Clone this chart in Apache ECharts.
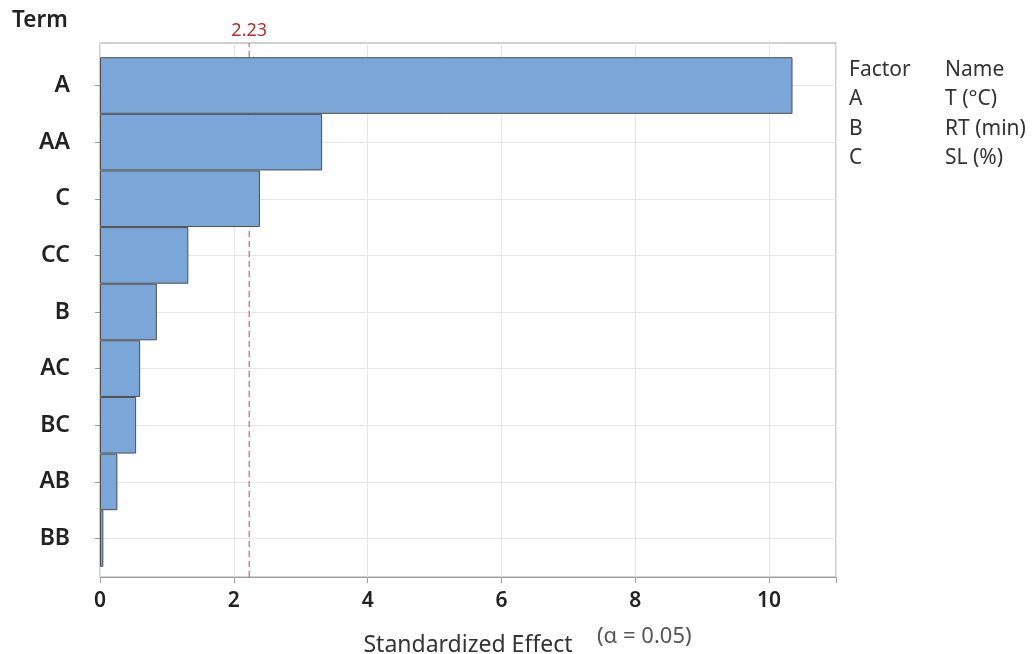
<!DOCTYPE html>
<html>
<head>
<meta charset="utf-8">
<script src="https://cdn.jsdelivr.net/npm/echarts@6/dist/echarts.min.js"></script>
<style>
html,body{margin:0;padding:0;background:#fff;}
#chart{width:1033px;height:654px;}
</style>
</head>
<body>
<div id="chart"></div>
<script>
const terms = ['A', 'AA', 'C', 'CC', 'B', 'AC', 'BC', 'AB', 'BB'];
const effects = [10.35, 3.32, 2.39, 1.32, 0.85, 0.60, 0.54, 0.26, 0.05];
const threshold = 2.23;
const xTicks = [0, 2, 4, 6, 8, 10];
const factorCodes = ['A', 'B', 'C'];
const factorNames = ['T (°C)', 'RT (min)', 'SL (%)'];

const FONT = '"Noto Sans", "Open Sans", sans-serif';
const chart = echarts.init(document.getElementById('chart'));

const graphics = [
  { type: 'text', x: 12, y: 21, style: { text: 'Term', font: '600 22.5px ' + FONT, fill: '#222', verticalAlign: 'middle' } },
  { type: 'text', x: 849, y: 70, style: { text: 'Factor', font: '21px ' + FONT, fill: '#333', verticalAlign: 'middle' } },
  { type: 'text', x: 945, y: 70, style: { text: 'Name', font: '21px ' + FONT, fill: '#333', verticalAlign: 'middle' } },
  { type: 'text', x: 597, y: 637, style: { text: '(α = 0.05)', font: '22px ' + FONT, fill: '#555', verticalAlign: 'middle' } }
];
factorCodes.forEach((c, i) => {
  graphics.push({ type: 'text', x: 849, y: 99.5 + i * 29.3, style: { text: c, font: '21px ' + FONT, fill: '#333', verticalAlign: 'middle' } });
  graphics.push({ type: 'text', x: 945, y: 99.5 + i * 29.3, style: { text: factorNames[i], font: '21px ' + FONT, fill: '#333', verticalAlign: 'middle' } });
});

chart.setOption({
  animation: false,
  textStyle: { fontFamily: FONT },
  grid: [
    { left: 100, right: 197, top: 85.5, bottom: 115.5, show: false, outerBoundsMode: 'none', containLabel: false },
    { left: 100, right: 197, top: 43, bottom: 77, show: true, borderColor: '#a0a0a0', borderWidth: 1, outerBoundsMode: 'none', containLabel: false }
  ],
  xAxis: [
    { type: 'value', gridIndex: 0, min: 0, max: 11, show: false },
    {
      type: 'value', gridIndex: 1, min: 0, max: 11, interval: 2,
      axisLine: { show: true, lineStyle: { color: '#a0a0a0' } },
      axisTick: { show: true, length: 6, lineStyle: { color: '#a0a0a0' } },
      axisLabel: { fontSize: 21, fontWeight: 600, color: '#222', margin: 14,
        formatter: v => xTicks.includes(v) ? String(v) : '' },
      splitLine: { show: true, lineStyle: { color: '#e6e6e6' } },
      name: 'Standardized Effect', nameLocation: 'middle', nameGap: 57,
      nameTextStyle: { fontSize: 23, color: '#333' }
    }
  ],
  yAxis: [
    {
      type: 'category', gridIndex: 0, data: terms, inverse: true, boundaryGap: false,
      axisLine: { show: false },
      axisTick: { show: true, length: 5, lineStyle: { color: '#999' } },
      axisLabel: { fontSize: 23, fontWeight: 600, color: '#222', margin: 30 },
      splitLine: { show: true, lineStyle: { color: '#e6e6e6' } }
    },
    { type: 'value', gridIndex: 1, min: 0, max: 1, show: false }
  ],
  series: [
    {
      type: 'bar', xAxisIndex: 0, yAxisIndex: 0, data: effects,
      barWidth: '100%', clip: false,
      itemStyle: { color: '#7aa6d8', borderColor: '#4d4d4d', borderWidth: 1 },
      z: 3
    },
    {
      type: 'line', xAxisIndex: 1, yAxisIndex: 1,
      data: [[threshold, 0], [threshold, 1]],
      symbol: 'none', silent: true,
      lineStyle: { color: '#e0605f', type: [6, 4], width: 1.2 },
      markPoint: {
        silent: true, symbol: 'circle', symbolSize: 1,
        itemStyle: { color: 'rgba(0,0,0,0)' },
        label: { show: true, position: 'top', distance: 3, formatter: String(threshold), color: '#b03030', fontSize: 18 },
        data: [{ coord: [threshold, 1] }]
      },
      z: 2
    }
  ],
  graphic: graphics
});
</script>
</body>
</html>
